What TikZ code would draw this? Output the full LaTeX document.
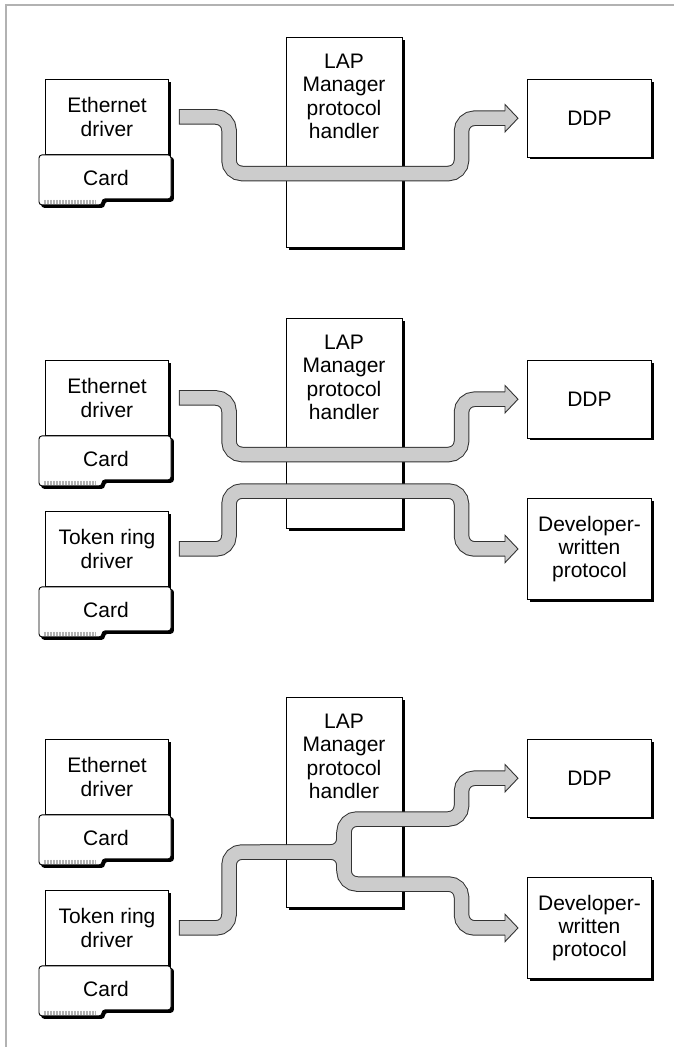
\documentclass[tikz,border=0pt]{standalone}
\usepackage{fontspec}
\setmainfont{Liberation Sans}
\usetikzlibrary{positioning, shadows}

\definecolor{bandfill}{gray}{0.8}
\definecolor{bandline}{gray}{0.2}
\definecolor{framegray}{gray}{0.7}

\tikzset{
  box/.style={draw, fill=white, line width=0.9pt, inner sep=0pt, align=center,
    font=\fontsize{21}{23.3}\selectfont,
    drop shadow={shadow xshift=2.5pt, shadow yshift=-2.5pt, fill=black, opacity=1}},
  txt/.style={inner sep=0pt, align=center, font=\fontsize{21}{23.3}\selectfont},
  bandout/.style={draw=bandline, line width=15.5pt, rounded corners=13pt},
  bandin/.style={draw=bandfill, line width=13.5pt, rounded corners=13pt},
  band/.style={bandout, postaction={bandin, shorten <=1pt}},
  headshape/.style={fill=bandfill, draw=bandline, line width=0.9pt, line join=miter},
  card/.pic={
    \foreach \s/\c in {2.5/black, 0/white}
      \filldraw[fill=\c, line width=0.9pt, rounded corners=3pt, shift={(\s,\s)}]
        (0,0) -- (132,0) -- (132,44) -- (63,44) -- (63,50) -- (0,50) -- cycle;
    \foreach \i in {0,...,34}
      \draw[gray!60, line width=0.5pt] (5+1.5*\i,45) -- ++(0,4);
    \node[txt] (-txt) at (67,23) {Card};
  },
}

\begin{document}
\begin{tikzpicture}[x=1pt, y=-1pt]
\useasboundingbox (0,0) rectangle (674,1047);
\draw[framegray, line width=1.5pt] (674,5) -- (6,5) -- (6,1047);

% Ethernet only
\begin{scope}
  \node[box, minimum width=116pt, minimum height=210pt, anchor=north] (lap1) at (344,37) {};
  \node[txt, below=17pt of lap1.north] (lap1txt) {LAP\\Manager\\protocol\\handler};
  \node[box, minimum width=123pt, minimum height=75pt, anchor=north west] (eth1) at (45,79) {Ethernet\\driver};
  \pic (card1) at ([xshift=-6pt]eth1.south west) {card};
  \node[box, minimum width=124pt, minimum height=77.5pt, anchor=north west] (ddp1) at (527,79) {DDP};

  \draw[band] ([xshift=10pt]eth1.east) -| (229,173.5) -| ([xshift=-65.5pt]ddp1.west) -- ([xshift=-21.5pt]ddp1.west);
  \filldraw[headshape] ([xshift=-22pt]ddp1.west) ++(0,-7) -- ++(0,-6.7) -- ++(13,13.7) -- ++(-13,13.7) -- ++(0,-6.7);
\end{scope}

% Ethernet and token ring
\begin{scope}[shift={(0,281)}]
  \node[box, minimum width=116pt, minimum height=210pt, anchor=north] (lap2) at (344,37) {};
  \node[txt, below=17pt of lap2.north] (lap2txt) {LAP\\Manager\\protocol\\handler};
  \node[box, minimum width=123pt, minimum height=75pt, anchor=north west] (eth2) at (45,79) {Ethernet\\driver};
  \pic (card2) at ([xshift=-6pt]eth2.south west) {card};
  \node[box, minimum width=123pt, minimum height=75pt, anchor=north west] (tok2) at (45,230) {Token ring\\driver};
  \pic (tcard2) at ([xshift=-6pt]tok2.south west) {card};
  \node[box, minimum width=124pt, minimum height=77.5pt, anchor=north west] (ddp2) at (527,79) {DDP};
  \node[box, minimum width=124pt, minimum height=101.6pt, anchor=north west] (dev2) at (527,216.7) {Developer-\\written\\protocol};

  \draw[band] ([xshift=10pt]eth2.east) -| (229,173.5) -| ([xshift=-65.5pt]ddp2.west) -- ([xshift=-21.5pt]ddp2.west);
  \draw[band] ([xshift=10pt]tok2.east) -| (229,210) -| ([xshift=-65.5pt]dev2.west) -- ([xshift=-21.5pt]dev2.west);
  \filldraw[headshape] ([xshift=-22pt]ddp2.west) ++(0,-7) -- ++(0,-6.7) -- ++(13,13.7) -- ++(-13,13.7) -- ++(0,-6.7);
  \filldraw[headshape] ([xshift=-22pt]dev2.west) ++(0,-7) -- ++(0,-6.7) -- ++(13,13.7) -- ++(-13,13.7) -- ++(0,-6.7);
\end{scope}

% token ring to both protocols
\begin{scope}[shift={(0,660)}]
  \node[box, minimum width=116pt, minimum height=210pt, anchor=north] (lap3) at (344,37) {};
  \node[txt, below=17pt of lap3.north] (lap3txt) {LAP\\Manager\\protocol\\handler};
  \node[box, minimum width=123pt, minimum height=75pt, anchor=north west] (eth3) at (45,79) {Ethernet\\driver};
  \pic (card3) at ([xshift=-6pt]eth3.south west) {card};
  \node[box, minimum width=123pt, minimum height=75pt, anchor=north west] (tok3) at (45,230) {Token ring\\driver};
  \pic (tcard3) at ([xshift=-6pt]tok3.south west) {card};
  \node[box, minimum width=124pt, minimum height=77.5pt, anchor=north west] (ddp3) at (527,79) {DDP};
  \node[box, minimum width=124pt, minimum height=101.6pt, anchor=north west] (dev3) at (527,216.7) {Developer-\\written\\protocol};

  % outline first, then fill, so the split merges
  \draw[bandout] ([xshift=10pt]tok3.east) -| (229,192) -| (344,159) -| ([xshift=-65.5pt]ddp3.west) -- ([xshift=-21.5pt]ddp3.west);
  \draw[bandout] (260,192) -| (344,224) -| ([xshift=-65.5pt]dev3.west) -- ([xshift=-21.5pt]dev3.west);
  \draw[bandout] (344,172) -- (344,211);
  \draw[bandin, shorten <=1pt] ([xshift=10pt]tok3.east) -| (229,192) -| (344,159) -| ([xshift=-65.5pt]ddp3.west) -- ([xshift=-21.5pt]ddp3.west);
  \draw[bandin] (260,192) -| (344,224) -| ([xshift=-65.5pt]dev3.west) -- ([xshift=-21.5pt]dev3.west);
  \draw[bandin] (344,172) -- (344,211);
  \filldraw[headshape] ([xshift=-22pt]ddp3.west) ++(0,-7) -- ++(0,-6.7) -- ++(13,13.7) -- ++(-13,13.7) -- ++(0,-6.7);
  \filldraw[headshape] ([xshift=-22pt]dev3.west) ++(0,-7) -- ++(0,-6.7) -- ++(13,13.7) -- ++(-13,13.7) -- ++(0,-6.7);
\end{scope}
\end{tikzpicture}
\end{document}
